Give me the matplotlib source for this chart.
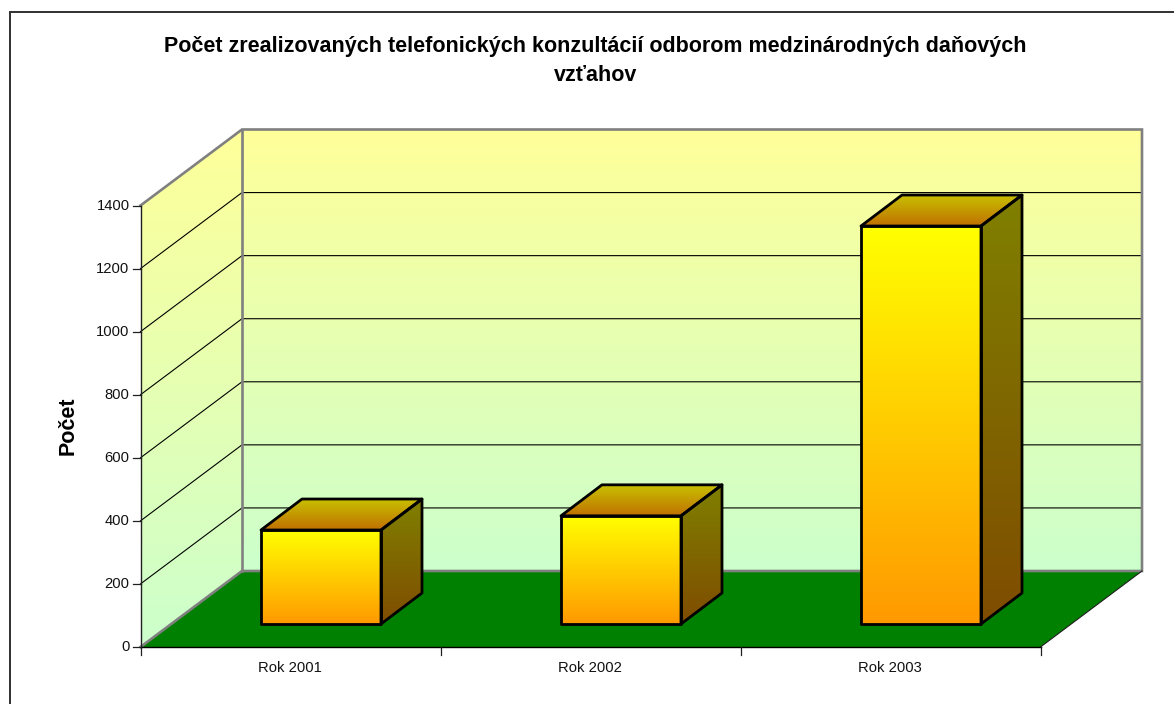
import matplotlib
matplotlib.use("Agg")
import matplotlib.pyplot as plt
import numpy as np
from matplotlib.colors import LinearSegmentedColormap
from matplotlib.patches import Polygon

plt.rcParams["font.family"] = ["Liberation Sans", "DejaVu Sans"]

categories = ["Rok 2001", "Rok 2002", "Rok 2003"]
values = [298, 343, 1262]
y_ticks = [0, 200, 400, 600, 800, 1000, 1200, 1400]
title = "Počet zrealizovaných telefonických konzultácií odborom medzinárodných daňových\nvzťahov"
y_label = "Počet"

# layout in pixels of the picture
X0, X1 = 140.5, 1040.5
Y0, Y1 = 647.0, 205.5
DX, DY = 101.5, -76.0
BAR_W = 120.0
BAR_DX, BAR_DY = 41.0, -31.0
BAR_FRONT_X = 120.5
BAR_FRONT_Y = -23.0
YMAX = y_ticks[-1]


def vy(v):
    return Y0 + (Y1 - Y0) * v / YMAX


def grad_poly(ax, pts, top, bottom, zorder):
    pts = np.array(pts)
    xa, xb = pts[:, 0].min(), pts[:, 0].max()
    ya, yb = pts[:, 1].min(), pts[:, 1].max()
    cmap = LinearSegmentedColormap.from_list("g", [top, bottom])
    im = ax.imshow(np.linspace(0, 1, 256).reshape(-1, 1), cmap=cmap, aspect="auto",
                   extent=(xa, xb, yb, ya), zorder=zorder, interpolation="bilinear")
    im.set_clip_path(Polygon(pts, closed=True, transform=ax.transData))


fig = plt.figure(figsize=(11.74, 7.04), dpi=100)
ax = fig.add_axes([0, 0, 1, 1])
ax.axis("off")

# walls
back = [(X0 + DX, Y1 + DY), (X1 + DX, Y1 + DY), (X1 + DX, Y0 + DY), (X0 + DX, Y0 + DY)]
side = [(X0, Y1), (X0 + DX, Y1 + DY), (X0 + DX, Y0 + DY), (X0, Y0)]
floor = [(X0, Y0), (X0 + DX, Y0 + DY), (X1 + DX, Y0 + DY), (X1, Y0)]
grad_poly(ax, back, "#FFFF99", "#CCFFCC", 1)
grad_poly(ax, side, "#FFFF99", "#CCFFCC", 1)
ax.add_patch(Polygon(floor, closed=True, fc="#008000", ec="none", zorder=2))

# gridlines
for t in y_ticks[1:-1]:
    y = vy(t)
    ax.plot([X0, X0 + DX, X1 + DX], [y, y + DY, y + DY], color="black", lw=0.8, zorder=3)

# wall borders
grey = "#808080"
ax.plot([X0, X0 + DX, X1 + DX, X1 + DX, X0 + DX, X0], [Y1, Y1 + DY, Y1 + DY, Y0 + DY, Y0 + DY, Y0],
        color=grey, lw=1.9, zorder=3, solid_joinstyle="miter")
ax.plot([X0 + DX, X0 + DX], [Y1 + DY, Y0 + DY], color=grey, lw=1.9, zorder=3)
ax.plot([X1, X1 + DX], [Y0, Y0 + DY], color="#202020", lw=0.8, zorder=3)

# axes lines and ticks
ax.plot([X0, X0], [Y1, Y0], color="#202020", lw=1.0, zorder=4)
ax.plot([X0, X1], [Y0, Y0], color="black", lw=1.0, zorder=4)
for t in y_ticks:
    ax.plot([X0 - 8, X0], [vy(t), vy(t)], color="#202020", lw=0.9, zorder=4)
    ax.text(X0 - 11, vy(t), str(t), ha="right", va="center", fontsize=10.6, color="#111111")

step = (X1 - X0) / len(categories)
for i in range(len(categories) + 1):
    ax.plot([X0 + i * step] * 2, [Y0, Y0 + 8], color="#202020", lw=0.9, zorder=4)

# bars
for i, (cat, v) in enumerate(zip(categories, values)):
    xl = X0 + i * step + BAR_FRONT_X
    xr = xl + BAR_W
    yb = Y0 + BAR_FRONT_Y
    yt = yb + vy(v) - Y0
    front = [(xl, yt), (xr, yt), (xr, yb), (xl, yb)]
    top = [(xl, yt), (xl + BAR_DX, yt + BAR_DY), (xr + BAR_DX, yt + BAR_DY), (xr, yt)]
    right = [(xr, yt), (xr + BAR_DX, yt + BAR_DY), (xr + BAR_DX, yb + BAR_DY), (xr, yb)]
    grad_poly(ax, front, "#FFFF00", "#FF9900", 5)
    grad_poly(ax, top, "#C8C000", "#C07000", 5)
    grad_poly(ax, right, "#808000", "#7F4C00", 5)
    for pts in (front, top, right):
        ax.add_patch(Polygon(pts, closed=True, fc="none", ec="black", lw=2.0, zorder=6, joinstyle="round"))
    ax.text(X0 + (i + 0.5) * step - 0.5, 668, cat, ha="center", va="center", fontsize=10.6, color="#111111")

ax.text(595.5, 61, title, ha="center", va="center", fontsize=15.5, fontweight="bold",
        color="black", linespacing=1.45)
ax.text(68, 426, y_label, ha="center", va="center", rotation=90, fontsize=15.5, fontweight="bold",
        color="black")

# chart frame, only left and top fall inside the picture
ax.plot([9.5, 9.5, 1174], [704, 12, 12], color="#303030", lw=1.4, zorder=7, solid_joinstyle="miter")

ax.set_xlim(0, 1174)
ax.set_ylim(704, 0)
fig.savefig("out.png", dpi=100, facecolor="white")
